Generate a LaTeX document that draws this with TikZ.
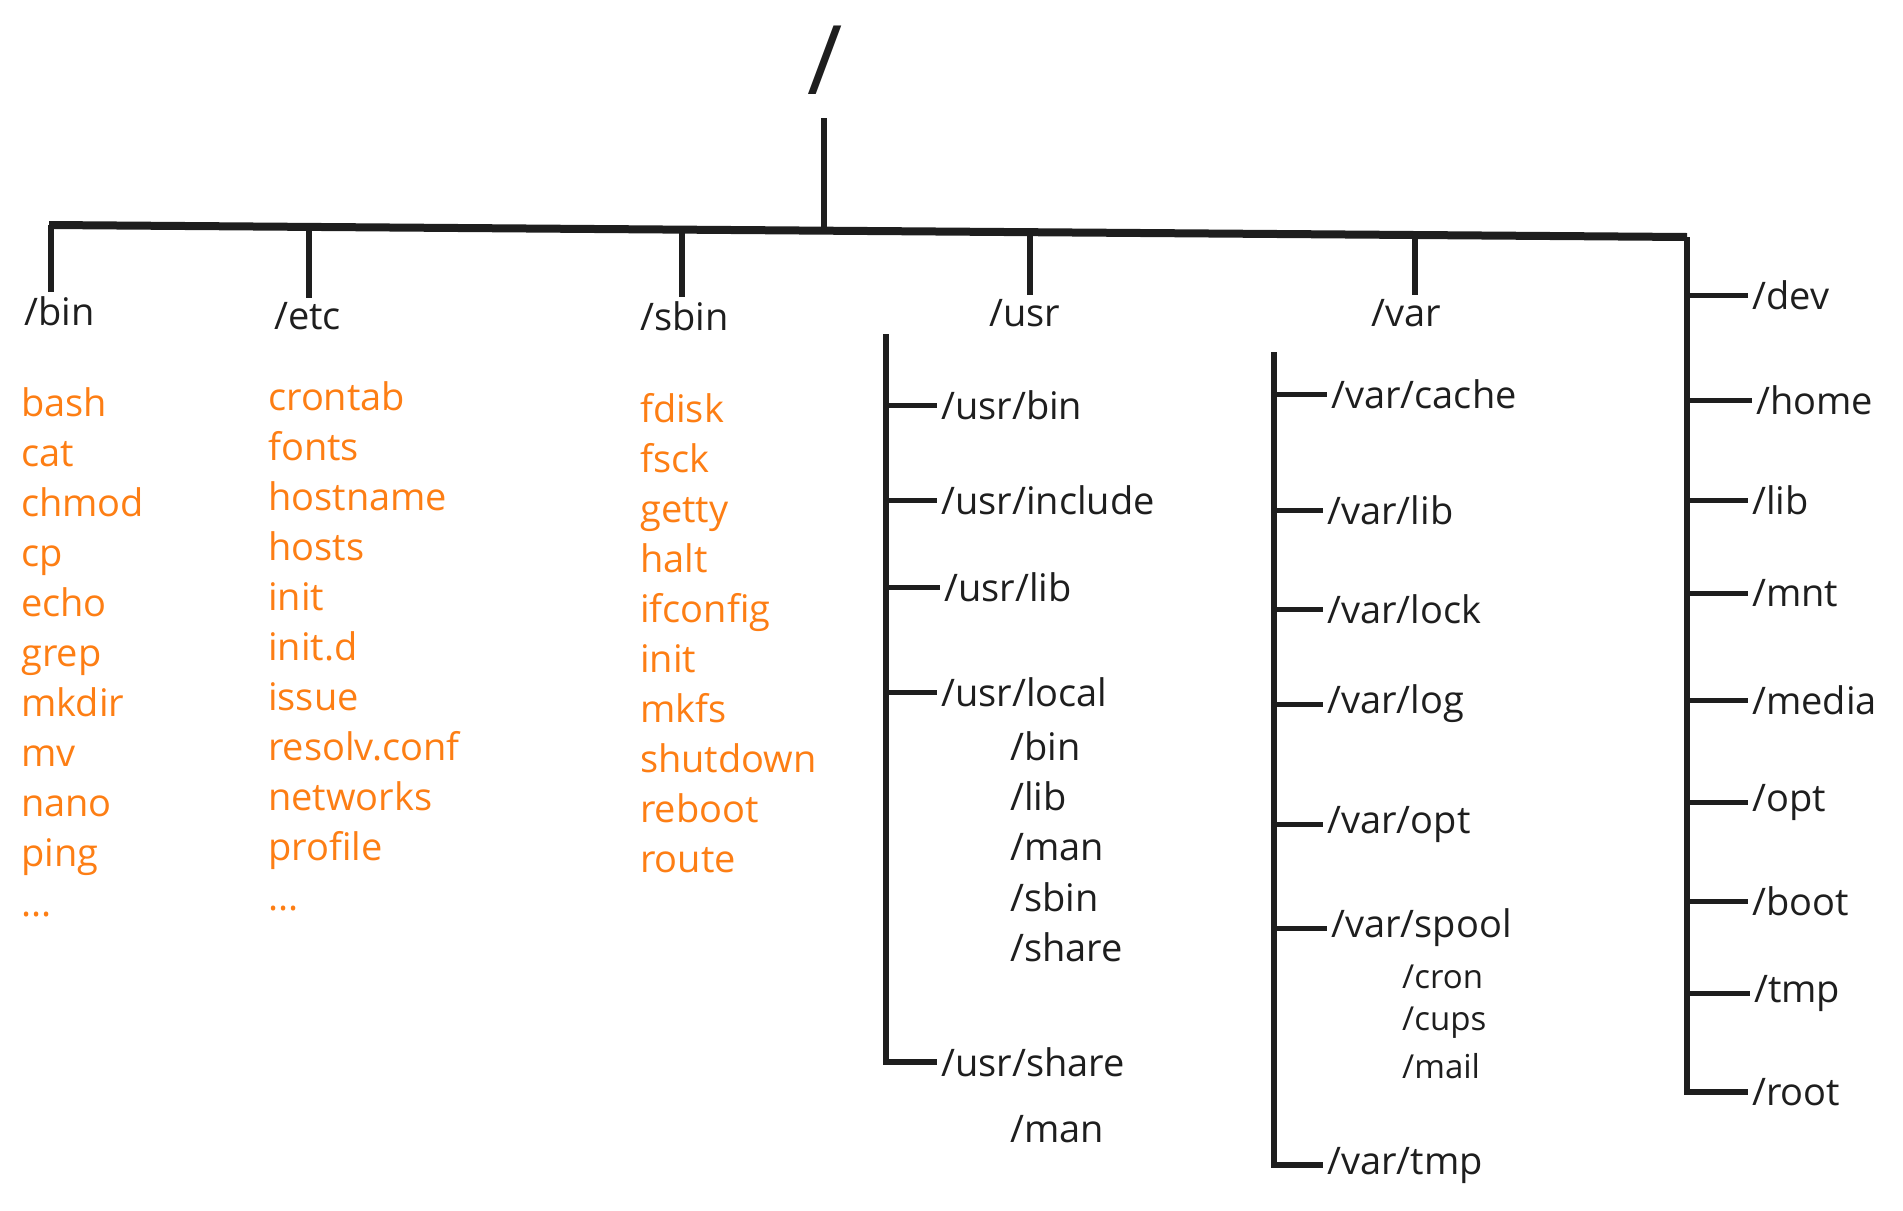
\documentclass[tikz,border=0pt]{standalone}
\usepackage{fontspec}
\setmainfont{Open Sans}
\definecolor{inkblack}{HTML}{1E1E1E}
\definecolor{fileorange}{HTML}{FD7E14}

\tikzset{
  dirlabel/.style={inkblack, anchor=west, inner sep=4pt, font=\fontsize{38}{44}\selectfont},
  sublabel/.style={inkblack, anchor=west, inner sep=4pt, font=\fontsize{33}{38}\selectfont},
  filelabel/.style={fileorange, anchor=base west, inner sep=4pt, font=\fontsize{38}{44}\selectfont},
  busline/.style={draw=inkblack, line width=8pt},
  dropline/.style={draw=inkblack, line width=5.5pt},
  railline/.style={draw=inkblack, line width=6.5pt},
  twigline/.style={draw=inkblack, line width=5pt}
}

\begin{document}
\begin{tikzpicture}[x=1pt,y=-1pt]
  \useasboundingbox (0,0) rectangle (1903,1210);

  % root and the bus below it
  \node[inkblack, font=\fontsize{96}{100}\selectfont] (top) at (825,60) {/};
  \coordinate (rootfoot) at (824,118);
  \coordinate (busl) at (49,225);
  \coordinate (busr) at (1687,237);
  \coordinate (jroot) at (824,230);
  \coordinate (jbin)  at (51,225);
  \coordinate (jetc)  at (309,226);
  \coordinate (jsbin) at (682,228);
  \coordinate (jusr)  at (1030,231);
  \coordinate (jvar)  at (1415,234);

  \begin{scope}[every node/.style={dirlabel}]
    \node (bin)  at (20,311)   {/bin};
    \node (etc)  at (270,316)  {/etc};
    \node (sbin) at (636,316)  {/sbin};
    \node (usr)  at (985,313)  {/usr};
    \node (var)  at (1367,313) {/var};

    \node (dev)   at (1748,295)  {/dev};
    \node (home)  at (1752,400)  {/home};
    \node (lib)   at (1748,500)  {/lib};
    \node (mnt)   at (1748,593)  {/mnt};
    \node (media) at (1748,700)  {/media};
    \node (opt)   at (1748,802)  {/opt};
    \node (boot)  at (1748,901)  {/boot};
    \node (tmp)   at (1750,993)  {/tmp};
    \node (droot) at (1748,1092) {/root};

    \node (ubin)     at (937,405)  {/usr/bin};
    \node (uinclude) at (937,500)  {/usr/include};
    \node (ulib)     at (940,587)  {/usr/lib};
    \node (ulocal)   at (937,692)  {/usr/local};
    \node (ushare)   at (937,1062) {/usr/share};

    \node (vcache) at (1327,394)  {/var/cache};
    \node (vlib)   at (1323,510)  {/var/lib};
    \node (vlock)  at (1323,609)  {/var/lock};
    \node (vlog)   at (1323,704)  {/var/log};
    \node (vopt)   at (1323,824)  {/var/opt};
    \node (vspool) at (1327,928)  {/var/spool};
    \node (vtmp)   at (1323,1165) {/var/tmp};
  \end{scope}

  \begin{scope}[every node/.style={dirlabel}]
    \node (lbin)   at (1006,746)  {/bin};
    \node (llib)   at (1006,796)  {/lib};
    \node (lman)   at (1006,847)  {/man};
    \node (lsbin)  at (1006,897)  {/sbin};
    \node (lshare) at (1006,947)  {/share};
    \node (sman)   at (1006,1129) {/man};
  \end{scope}

  \begin{scope}[every node/.style={sublabel}]
    \node (scron) at (1398,977)  {/cron};
    \node (scups) at (1398,1023) {/cups};
    \node (smail) at (1398,1066) {/mail};
  \end{scope}

  % files in /bin, /etc and /sbin
  \begin{scope}[every node/.style={filelabel}]
    \node (bash)  at (17,416) {bash};
    \node (cat)   at (17,466) {cat};
    \node (chmod) at (17,516) {chmod};
    \node (cp)    at (17,566) {cp};
    \node (echo)  at (17,616) {echo};
    \node (grep)  at (17,666) {grep};
    \node (mkdir) at (17,716) {mkdir};
    \node (mv)    at (17,766) {mv};
    \node (nano)  at (17,816) {nano};
    \node (ping)  at (17,866) {ping};
    \node (bmore) at (17,916) {...};

    \node (crontab)  at (264,410) {crontab};
    \node (fonts)    at (264,460) {fonts};
    \node (hostname) at (264,510) {hostname};
    \node (hosts)    at (264,560) {hosts};
    \node (einit)    at (264,610) {init};
    \node (einitd)   at (264,660) {init.d};
    \node (issue)    at (264,710) {issue};
    \node (resolv)   at (264,760) {resolv.conf};
    \node (networks) at (264,810) {networks};
    \node (profile)  at (264,860) {profile};
    \node (emore)    at (264,910) {...};

    \node (fdisk)    at (636,422) {fdisk};
    \node (fsck)     at (636,472) {fsck};
    \node (getty)    at (636,522) {getty};
    \node (halt)     at (636,572) {halt};
    \node (ifconfig) at (636,622) {ifconfig};
    \node (sinit)    at (636,672) {init};
    \node (mkfs)     at (636,722) {mkfs};
    \node (shutdown) at (636,772) {shutdown};
    \node (reboot)   at (636,822) {reboot};
    \node (route)    at (636,872) {route};
  \end{scope}

  % tree lines
  \draw[dropline] (rootfoot) -- (jroot);
  \draw[busline] (busl) -- (busr);
  \draw[dropline] (jbin)  -- (jbin |- bin.north);
  \draw[dropline] (jetc)  -- (jetc |- etc.north);
  \draw[dropline] (jsbin) -- (jsbin |- sbin.north);
  \draw[dropline] (jusr)  -- (jusr |- usr.north);
  \draw[dropline] (jvar)  -- (jvar |- var.north);

  \draw[railline] (busr) -- (busr |- droot.west) -- (droot.west);
  \draw[twigline] (busr |- dev.west)   -- (dev.west);
  \draw[twigline] (busr |- home.west)  -- (home.west);
  \draw[twigline] (busr |- lib.west)   -- (lib.west);
  \draw[twigline] (busr |- mnt.west)   -- (mnt.west);
  \draw[twigline] (busr |- media.west) -- (media.west);
  \draw[twigline] (busr |- opt.west)   -- (opt.west);
  \draw[twigline] (busr |- boot.west)  -- (boot.west);
  \draw[twigline] (busr |- tmp.west)   -- (tmp.west);

  \coordinate (usrtop) at (886,334);
  \draw[railline] (usrtop) -- (usrtop |- ushare.west) -- (ushare.west);
  \draw[twigline] (usrtop |- ubin.west)     -- (ubin.west);
  \draw[twigline] (usrtop |- uinclude.west) -- (uinclude.west);
  \draw[twigline] (usrtop |- ulib.west)     -- (ulib.west);
  \draw[twigline] (usrtop |- ulocal.west)   -- (ulocal.west);

  \coordinate (vartop) at (1274,352);
  \draw[railline] (vartop) -- (vartop |- vtmp.west) -- (vtmp.west);
  \draw[twigline] (vartop |- vcache.west) -- (vcache.west);
  \draw[twigline] (vartop |- vlib.west)   -- (vlib.west);
  \draw[twigline] (vartop |- vlock.west)  -- (vlock.west);
  \draw[twigline] (vartop |- vlog.west)   -- (vlog.west);
  \draw[twigline] (vartop |- vopt.west)   -- (vopt.west);
  \draw[twigline] (vartop |- vspool.west) -- (vspool.west);

\end{tikzpicture}
\end{document}
